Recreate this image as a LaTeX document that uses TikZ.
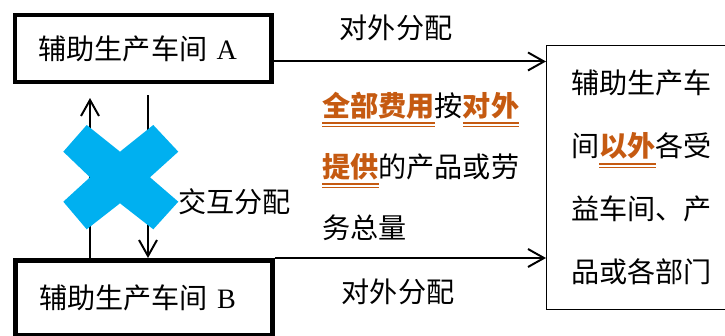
\documentclass[tikz,border=0pt]{standalone}
\usepackage{fontspec}
\setmainfont{Liberation Serif}
\newfontfamily\cjk{Noto Sans CJK SC}
\usepackage{xcolor}
\usetikzlibrary{arrows.meta, positioning}
\definecolor{feeOrange}{HTML}{C55A11}
\definecolor{crossBlue}{HTML}{00B0F0}
\newcommand{\dul}[1]{\textcolor{feeOrange}{\setbox0\hbox{\bfseries #1}\rlap{\rule[-5.5pt]{\wd0}{1pt}}\rlap{\rule[-8pt]{\wd0}{1pt}}\box0}}

\begin{document}
\begin{tikzpicture}[x=0.025cm, y=-0.025cm,
  every node/.style={font=\cjk\fontsize{20}{24}\selectfont, inner sep=0pt},
  shop/.style={draw, line width=3.5pt, inner xsep=0.59cm, text width=5.24cm, align=left, anchor=north west},
  flow/.style={line width=1.4pt, -{Straight Barb[length=0.4cm, width=0.45cm]}}]
  \useasboundingbox (0,0) rectangle (725,336);

  \node[shop, minimum height=1.675cm] (shopA) at (12.5,12.5) {辅助生产车间 {\rmfamily A}};
  \node[shop, minimum height=1.875cm] (shopB) at (13,258) {辅助生产车间 {\rmfamily B}};
  \node[draw, line width=0.8pt, anchor=north west, minimum width=4.75cm, minimum height=6.6cm, align=left,
        font=\cjk\fontsize{20}{44.8}\selectfont] (users) at (546,45)
        {辅助生产车\\间\dul{以外}各受\\益车间、产\\品或各部门};

  \draw[flow] ([yshift=-0.325cm]shopA.east) coordinate (outA) -- (outA -| users.west);
  \draw[flow] (shopB.north east) -- (shopB.north east -| users.west);
  \node (outLabelA) at (396,28) {对外分配};
  \node (outLabelB) at (398,292) {对外分配};

  \coordinate (upEnd) at (90,98);
  \coordinate (downStart) at (148,95);
  \draw[flow] (upEnd |- shopB.north) -- (upEnd);
  \draw[flow] (downStart) -- (downStart |- shopB.north);
  \fill[crossBlue] (63.3,151.7) -- (86.7,125) -- (120,151.7) -- (153.3,125) -- (178.3,151.7) -- (150,177.3)
    -- (178.3,201.7) -- (153.3,229.3) -- (120,203.3) -- (86.7,229.3) -- (63.3,201.7) -- (90,177.3) -- cycle;
  \node[anchor=west] (mutual) at (178,202) {交互分配};

  \node[anchor=west, align=left, font=\cjk\fontsize{20}{43.4}\selectfont] (basis) at (322,166)
    {\dul{全部费用}按\dul{对外}\\\dul{提供}的产品或劳\\务总量};

\end{tikzpicture}
\end{document}
